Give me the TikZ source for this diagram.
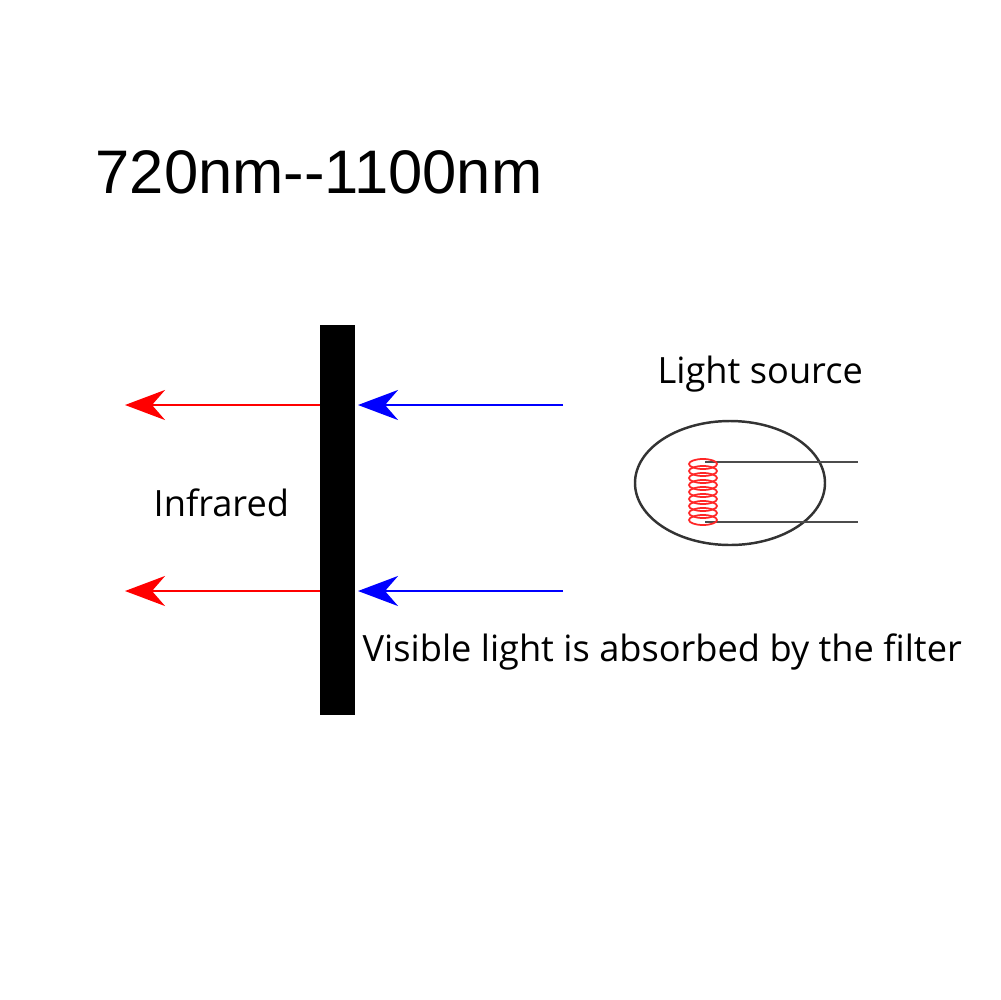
\documentclass[tikz,border=0pt]{standalone}
\usepackage{fontspec}
\setmainfont{Liberation Sans}
\newfontfamily\labelfont{Open Sans}
\usetikzlibrary{arrows.meta}

\begin{document}
\begin{tikzpicture}[
    x=0.1mm, y=-0.1mm,
    ray/.style={-{Stealth[length=4mm,width=3mm]}, thick},
    label/.style={font=\labelfont\fontsize{10.3}{12}\selectfont, anchor=west, inner sep=0pt},
    wire/.style={draw=black!70, line width=0.6pt}
]
    \useasboundingbox (0,0) rectangle (1000,1000);

    % Title
    \node[anchor=west, inner sep=0pt, font=\fontsize{17.5}{20}\selectfont] (title) at (95,172) {720nm{-}{-}1100nm};

    % Filter
    \fill[black] (320,325) rectangle (355,715);
    \coordinate (filter-top) at (358,405);
    \coordinate (filter-bot) at (358,591);
    \coordinate (filter-top-l) at (320,405);
    \coordinate (filter-bot-l) at (320,591);

    % Rays
    \coordinate (src-top) at (563,405);
    \coordinate (src-bot) at (563,591);
    \coordinate (ir-top) at (125,405);
    \coordinate (ir-bot) at (125,591);
    \draw[ray, blue] (src-top) -- (filter-top);
    \draw[ray, blue] (src-bot) -- (filter-bot);
    \draw[ray, red] (filter-top-l) -- (ir-top);
    \draw[ray, red] (filter-bot-l) -- (ir-bot);

    % Labels
    \node[label] (infrared) at (153,503) {Infrared};
    \node[label] (source-label) at (657,374) {Light source};
    \node[label] (absorbed) at (362,652) {Visible light is absorbed by the filter};

    % Light source
    \draw[black!80, line width=0.7pt] (730,483) ellipse [x radius=95, y radius=62];
    \draw[wire] (705,462) -- (858,462);
    \draw[wire] (705,522) -- (858,522);
    \foreach \k in {0,...,8}
        \draw[red!85, line width=0.5pt] (703,{464+\k*7}) ellipse [x radius=14, y radius=5];
\end{tikzpicture}
\end{document}
